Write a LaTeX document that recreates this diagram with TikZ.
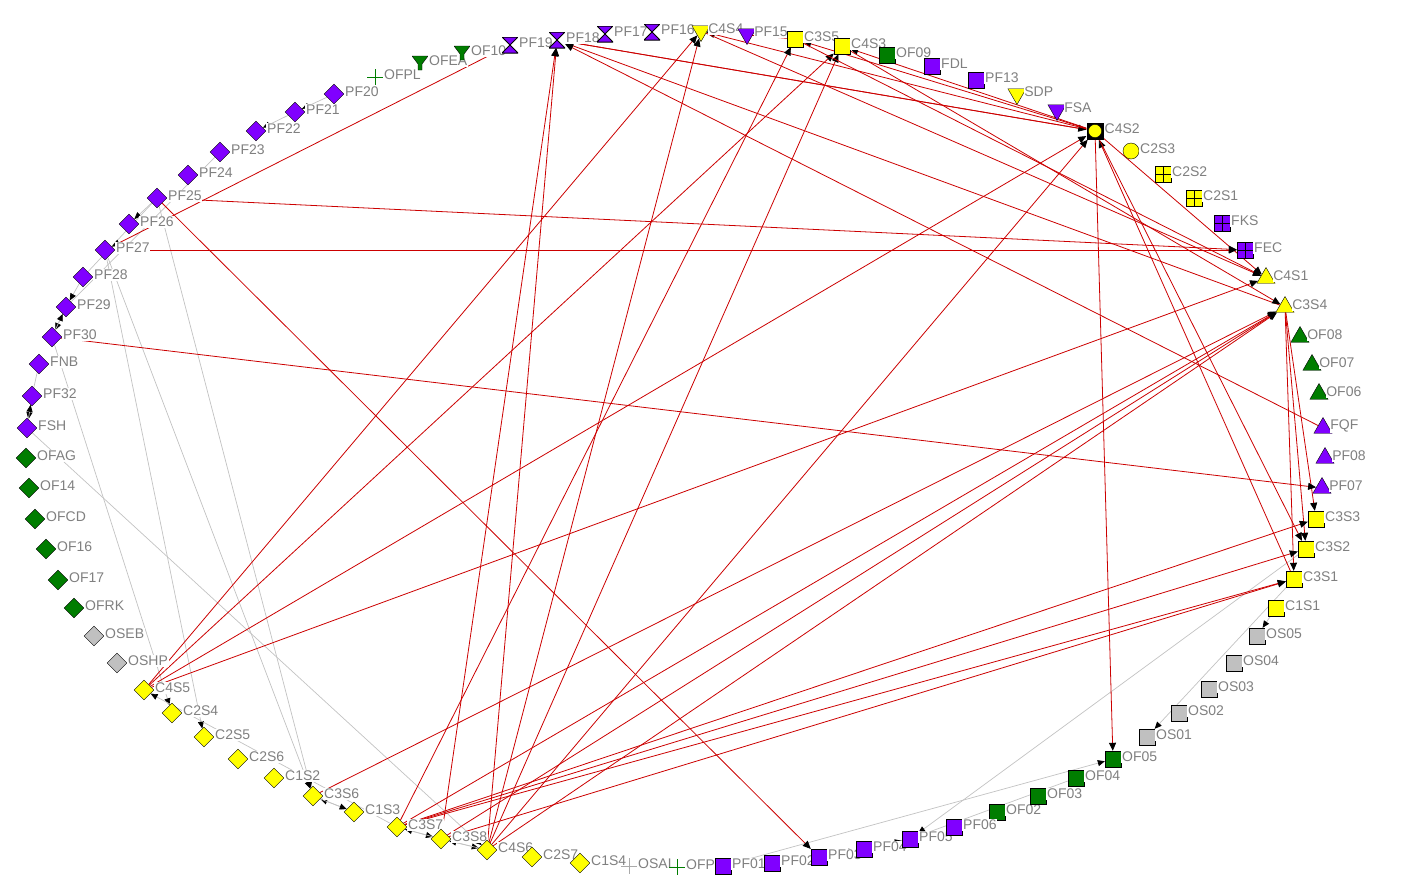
\documentclass[tikz,border=0pt]{standalone}
\usepackage{fontspec}
\setmainfont{Liberation Sans}
\usepackage{xcolor}
\usepackage{tikz}
\usetikzlibrary{shapes.geometric, arrows.meta}
\definecolor{pfPurple}{RGB}{128,0,255}
\definecolor{ofGreen}{RGB}{0,125,0}
\definecolor{csYellow}{RGB}{255,255,0}
\definecolor{osGray}{RGB}{192,192,192}
\definecolor{plusGray}{RGB}{170,170,170}
\definecolor{labelGray}{RGB}{128,128,128}
\definecolor{edgeRed}{RGB}{204,0,0}
\definecolor{edgeGray}{RGB}{195,195,195}
\pgfdeclarelayer{edges}
\pgfsetlayers{edges,main}

\begin{document}
\begin{tikzpicture}[
  x=1pt, y=-1pt,
  lbl/.style={font=\fontsize{14}{16}\selectfont, text=labelGray, fill=white, inner sep=0.8pt, yshift=2pt},
  sq/.style={rectangle, draw=black, fill=#1, minimum size=16pt, inner sep=0pt, label distance=2.5pt},
  dia/.style={diamond, draw=black, fill=#1, minimum size=20pt, inner sep=0pt, label distance=0.5pt},
  triup/.style={regular polygon, regular polygon sides=3, draw=black, fill=#1, minimum size=21pt, inner sep=0pt, label distance=4.5pt},
  tridown/.style={triup=#1, shape border rotate=180},
  circ/.style={circle, draw=black, fill=#1, minimum size=16pt, inner sep=0pt, label distance=2.5pt},
  grid/.style={sq=#1, path picture={\draw (path picture bounding box.north) -- (path picture bounding box.south) (path picture bounding box.west) -- (path picture bounding box.east);}},
  boxcirc/.style={rectangle, fill=black, minimum size=17pt, inner sep=0pt, label distance=2.5pt, path picture={\filldraw[fill=#1, draw=black] (path picture bounding box.center) circle (6.6pt);}},
  hourglass/.style={rectangle, minimum size=16pt, inner sep=0pt, label distance=2pt, path picture={\filldraw[fill=#1, draw=black, line width=1pt] (path picture bounding box.north west) -- (path picture bounding box.north east) -- (path picture bounding box.south west) -- (path picture bounding box.south east) -- cycle;}},
  funnel/.style={rectangle, minimum size=16pt, inner sep=0pt, label distance=2pt, path picture={\filldraw[fill=#1, draw=black] ([shift={(-8pt,7pt)}]path picture bounding box.center) -- ([shift={(8pt,7pt)}]path picture bounding box.center) -- ([shift={(2pt,-1pt)}]path picture bounding box.center) -- ([shift={(2pt,-7pt)}]path picture bounding box.center) -- ([shift={(-2pt,-7pt)}]path picture bounding box.center) -- ([shift={(-2pt,-1pt)}]path picture bounding box.center) -- cycle;}},
  plus/.style={rectangle, minimum size=16pt, inner sep=0pt, label distance=2.5pt, path picture={\draw[#1, line width=1pt] (path picture bounding box.north) -- (path picture bounding box.south) (path picture bounding box.west) -- (path picture bounding box.east);}},
  redarrow/.style={draw=edgeRed, line width=0.8pt, -{Triangle[length=8pt, width=7pt, color=black]}},
  grayarrow/.style={draw=edgeGray, line width=0.7pt, -{Triangle[length=7pt, width=6pt, color=black]}},
  grayline/.style={draw=edgeGray, line width=0.7pt}
]
\useasboundingbox (0,0) rectangle (1408,892);

% Nodes: left arc
\node (PF20) [dia=pfPurple, label={[lbl]0:PF20}] at (334,94) {};
\node (PF21) [dia=pfPurple, label={[lbl]0:PF21}] at (295,112) {};
\node (PF22) [dia=pfPurple, label={[lbl]0:PF22}] at (256,131) {};
\node (PF23) [dia=pfPurple, label={[lbl]0:PF23}] at (220,152) {};
\node (PF24) [dia=pfPurple, label={[lbl]0:PF24}] at (188,175) {};
\node (PF25) [dia=pfPurple, label={[lbl]0:PF25}] at (157,198) {};
\node (PF26) [dia=pfPurple, label={[lbl]0:PF26}] at (129,224) {};
\node (PF27) [dia=pfPurple, label={[lbl]0:PF27}] at (105,250) {};
\node (PF28) [dia=pfPurple, label={[lbl]0:PF28}] at (83,277) {};
\node (PF29) [dia=pfPurple, label={[lbl]0:PF29}] at (66,307) {};
\node (PF30) [dia=pfPurple, label={[lbl]0:PF30}] at (52,337) {};
\node (FNB) [dia=pfPurple, label={[lbl]0:FNB}] at (39,364) {};
\node (PF32) [dia=pfPurple, label={[lbl]0:PF32}] at (32,396) {};
\node (FSH) [dia=pfPurple, label={[lbl]0:FSH}] at (27,428) {};
\node (OFAG) [dia=ofGreen, label={[lbl]0:OFAG}] at (26,458) {};
\node (OF14) [dia=ofGreen, label={[lbl]0:OF14}] at (29,488) {};
\node (OFCD) [dia=ofGreen, label={[lbl]0:OFCD}] at (35,519) {};
\node (OF16) [dia=ofGreen, label={[lbl]0:OF16}] at (46,549) {};
\node (OF17) [dia=ofGreen, label={[lbl]0:OF17}] at (58,580) {};
\node (OFRK) [dia=ofGreen, label={[lbl]0:OFRK}] at (74,608) {};
\node (OSEB) [dia=osGray, label={[lbl]0:OSEB}] at (94,636) {};
\node (OSHP) [dia=osGray, label={[lbl]0:OSHP}] at (117,663) {};

% Nodes: bottom arc
\node (C4S5) [dia=csYellow, label={[lbl]0:C4S5}] at (144,690) {};
\node (C2S4) [dia=csYellow, label={[lbl]0:C2S4}] at (172,713) {};
\node (C2S5) [dia=csYellow, label={[lbl]0:C2S5}] at (204,737) {};
\node (C2S6) [dia=csYellow, label={[lbl]0:C2S6}] at (238,759) {};
\node (C1S2) [dia=csYellow, label={[lbl]0:C1S2}] at (274,778) {};
\node (C3S6) [dia=csYellow, label={[lbl]0:C3S6}] at (313,796) {};
\node (C1S3) [dia=csYellow, label={[lbl]0:C1S3}] at (354,812) {};
\node (C3S7) [dia=csYellow, label={[lbl]0:C3S7}] at (397,827) {};
\node (C3S8) [dia=csYellow, label={[lbl]0:C3S8}] at (441,839) {};
\node (C4S6) [dia=csYellow, label={[lbl]0:C4S6}] at (487,850) {};
\node (C2S7) [dia=csYellow, label={[lbl]0:C2S7}] at (532,857) {};
\node (C1S4) [dia=csYellow, label={[lbl]0:C1S4}] at (580,863) {};
\node (OSAL) [plus=plusGray, label={[lbl]0:OSAL}] at (629,866) {};
\node (OFP) [plus=ofGreen, label={[lbl]0:OFP}] at (677,867) {};
\node (PF01) [sq=pfPurple, label={[lbl]0:PF01}] at (723,866) {};
\node (PF02) [sq=pfPurple, label={[lbl]0:PF02}] at (772,863) {};
\node (PF03) [sq=pfPurple, label={[lbl]0:PF03}] at (819,857) {};
\node (PF04) [sq=pfPurple, label={[lbl]0:PF04}] at (864,849) {};
\node (PF05) [sq=pfPurple, label={[lbl]0:PF05}] at (910,839) {};
\node (OF02) [sq=ofGreen, label={[lbl]0:OF02}] at (997,812) {};
\node (PF06) [sq=pfPurple, label={[lbl]0:PF06}] at (954,827) {};
\node (OF03) [sq=ofGreen, label={[lbl]0:OF03}] at (1038,796) {};
\node (OF04) [sq=ofGreen, label={[lbl]0:OF04}] at (1076,778) {};
\node (OF05) [sq=ofGreen, label={[lbl]0:OF05}] at (1113,759) {};

% Nodes: right arc
\node (OS01) [sq=osGray, label={[lbl]0:OS01}] at (1147,737) {};
\node (OS02) [sq=osGray, label={[lbl]0:OS02}] at (1179,713) {};
\node (OS03) [sq=osGray, label={[lbl]0:OS03}] at (1209,689) {};
\node (OS04) [sq=osGray, label={[lbl]0:OS04}] at (1234,663) {};
\node (OS05) [sq=osGray, label={[lbl]0:OS05}] at (1257,636) {};
\node (C1S1) [sq=csYellow, label={[lbl]0:C1S1}] at (1276,608) {};
\node (C3S1) [sq=csYellow, label={[lbl]0:C3S1}] at (1294,579) {};
\node (C3S2) [sq=csYellow, label={[lbl]0:C3S2}] at (1306,549) {};
\node (C3S3) [sq=csYellow, label={[lbl]0:C3S3}] at (1316,519) {};
\node (PF07) [triup=pfPurple, label={[lbl]0:PF07}] at (1322,488) {};
\node (PF08) [triup=pfPurple, label={[lbl]0:PF08}] at (1325,458) {};
\node (FQF) [triup=pfPurple, label={[lbl]0:FQF}] at (1323,428) {};
\node (OF06) [triup=ofGreen, label={[lbl]0:OF06}] at (1319,394) {};
\node (OF07) [triup=ofGreen, label={[lbl]0:OF07}] at (1312,365) {};
\node (OF08) [triup=ofGreen, label={[lbl]0:OF08}] at (1300,337) {};
\node (C3S4) [triup=csYellow, label={[lbl]0:C3S4}] at (1285,307) {};
\node (C4S1) [triup=csYellow, label={[lbl]0:C4S1}] at (1266,278) {};
\node (FEC) [grid=pfPurple, label={[lbl]0:FEC}] at (1245,250) {};
\node (FKS) [grid=pfPurple, label={[lbl]0:FKS}] at (1222,223) {};
\node (C2S1) [grid=csYellow, label={[lbl]0:C2S1}] at (1194,198) {};
\node (C2S2) [grid=csYellow, label={[lbl]0:C2S2}] at (1163,174) {};
\node (C2S3) [circ=csYellow, label={[lbl]0:C2S3}] at (1131,151) {};

% Nodes: top arc
\node (OFPL) [plus=ofGreen, label={[lbl]0:OFPL}] at (375,77) {};
\node (OFEA) [funnel=ofGreen, label={[lbl]0:OFEA}] at (420,63) {};
\node (OF10) [funnel=ofGreen, label={[lbl]0:OF10}] at (462,53) {};
\node (PF19) [hourglass=pfPurple, label={[lbl]0:PF19}] at (510,45) {};
\node (PF18) [hourglass=pfPurple, label={[lbl]0:PF18}] at (557,40) {};
\node (PF17) [hourglass=pfPurple, label={[lbl]0:PF17}] at (605,34) {};
\node (PF16) [hourglass=pfPurple, label={[lbl]0:PF16}] at (652,32) {};
\node (C4S4) [tridown=csYellow, label={[lbl]0:C4S4}] at (701,31) {};
\node (PF15) [tridown=pfPurple, label={[lbl]0:PF15}] at (747,34) {};
\node (C3S5) [sq=csYellow, label={[lbl]0:C3S5}] at (795,39) {};
\node (C4S3) [sq=csYellow, label={[lbl]0:C4S3}] at (842,46) {};
\node (OF09) [sq=ofGreen, label={[lbl]0:OF09}] at (887,55) {};
\node (FDL) [sq=pfPurple, label={[lbl]0:FDL}] at (932,66) {};
\node (PF13) [sq=pfPurple, label={[lbl]0:PF13}] at (976,80) {};
\node (SDP) [tridown=csYellow, label={[lbl]0:SDP}] at (1017,94) {};
\node (FSA) [tridown=pfPurple, label={[lbl]0:FSA}] at (1057,110) {};
\node (C4S2) [boxcirc=csYellow, label={[lbl]0:C4S2}] at (1095,131) {};

\begin{pgfonlayer}{edges}
\fill [white] (0,0) rectangle (1408,892);

% Arrows: grey ties
\draw [grayarrow] (PF27) -- (C2S5);
\draw [grayarrow] (PF27) -- (C3S6);
\draw [grayarrow] (PF25) -- (C3S6);
\draw [grayarrow] (PF30) -- (C2S4);
\draw [grayarrow] (FSH) -- (C4S6);
\draw [grayarrow] (PF20) -- (PF21);
\draw [grayarrow] (PF21) -- (PF22);
\draw [grayarrow] (PF25) -- (PF26);
\draw [grayarrow] (PF28) -- (PF29);
\draw [grayarrow] (PF29) -- (PF30);
\draw [grayarrow] (PF30) -- (PF29);
\draw [grayarrow] (PF32) -- (FSH);
\draw [grayarrow] (FSH) -- (PF32);
\draw [grayline] (PF23) -- (PF29);
\draw [grayline] (PF25) -- (PF28);
\draw [grayline] (FNB) -- (PF32);
\draw [grayarrow] (C3S7) -- (C4S5);
\draw [grayarrow] (C1S3) -- (C3S6);
\draw [grayarrow] (C3S6) -- (C1S3);
\draw [grayarrow] (C3S7) -- (C3S8);
\draw [grayarrow] (C3S8) -- (C3S7);
\draw [grayarrow] (C3S8) -- (C4S6);
\draw [grayarrow] (C4S6) -- (C3S8);
\draw [grayarrow] (C3S2) -- (PF05);
\draw [grayarrow] (C3S1) -- (OS01);
\draw [grayarrow] (C1S1) -- (OS05);
\draw [grayarrow] (PF01) -- (OF05);
\draw [grayline] (PF05) -- (OF04);
\draw [grayarrow] (OFP) -- (PF01);
\draw [grayarrow] (PF03) -- (PF04);
\draw [grayarrow] (PF04) -- (PF05);

% Arrows: red ties
\draw [redarrow] (C4S6) -- (PF18);
\draw [redarrow] (C3S8) -- (PF18);
\draw [redarrow] (FQF) -- (PF18);
\draw [redarrow] (C3S4) -- (PF18);
\draw [redarrow] (C4S2) -- (PF18);
\draw [redarrow] (PF18) -- (C4S2);
\draw [redarrow] (C4S6) -- (C4S4);
\draw [redarrow] (C4S5) -- (C4S4);
\draw [redarrow] (C4S2) -- (C4S4);
\draw [redarrow] (C3S5) -- (C4S4);
\draw [redarrow] (C3S7) -- (C3S5);
\draw [redarrow] (C4S2) -- (C3S5);
\draw [redarrow] (C4S5) -- (C4S3);
\draw [redarrow] (C4S6) -- (C4S3);
\draw [redarrow] (C4S2) -- (C4S3);
\draw [redarrow] (C4S5) -- (C4S2);
\draw [redarrow] (C4S6) -- (C4S2);
\draw [redarrow] (C3S1) -- (C4S2);
\draw [redarrow] (C4S2) -- (C4S1);
\draw [redarrow] (C4S5) -- (C4S1);
\draw [redarrow] (C4S4) -- (C4S1);
\draw [redarrow] (C3S5) -- (C4S1);
\draw [redarrow] (C4S3) -- (C3S4);
\draw [redarrow] (C3S6) -- (C3S4);
\draw [redarrow] (C3S7) -- (C3S4);
\draw [redarrow] (C3S8) -- (C3S4);
\draw [redarrow] (C4S6) -- (C3S4);
\draw [redarrow] (C3S4) -- (C3S3);
\draw [redarrow] (C3S4) -- (C3S2);
\draw [redarrow] (C3S4) -- (C3S1);
\draw [redarrow] (C3S7) -- (C3S3);
\draw [redarrow] (C3S7) -- (C3S2);
\draw [redarrow] (C3S7) -- (C3S1);
\draw [redarrow] (C3S8) -- (C3S1);
\draw [redarrow] (C4S2) -- (OF05);
\draw [redarrow] (C4S2) -- (C3S2);
\draw [redarrow] (PF27) -- (FEC);
\draw [redarrow] (PF25) -- (FEC);
\draw [redarrow] (PF30) -- (PF07);
\draw [redarrow] (PF19) -- (PF27);
\draw [redarrow] (PF25) -- (PF03);
\end{pgfonlayer}

\end{tikzpicture}
\end{document}
